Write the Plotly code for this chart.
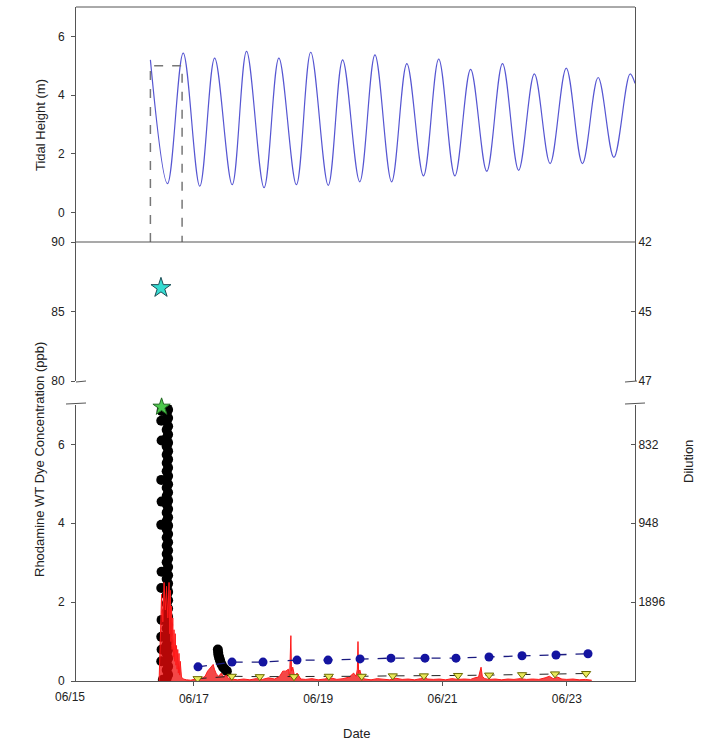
import plotly.graph_objects as go

# ---------------- data (x in days since 06/15 00:00) ----------------
# Tidal height extrema (m)
tide_day = [1.30, 1.575, 1.828, 2.095, 2.334, 2.616, 2.847, 3.129, 3.367, 3.649,
            3.880, 4.162, 4.393, 4.668, 4.913, 5.181, 5.426, 5.694, 5.939, 6.199,
            6.452, 6.712, 6.965, 7.225, 7.478, 7.731, 7.991, 8.251, 8.504, 8.757,
            9.017, 9.097]
tide_h = [5.20, 0.99, 5.43, 0.90, 5.26, 0.95, 5.49, 0.85, 5.26, 0.95,
          5.46, 0.93, 5.20, 1.05, 5.37, 1.05, 5.07, 1.25, 5.23, 1.25,
          4.88, 1.41, 5.07, 1.44, 4.72, 1.67, 4.92, 1.67, 4.60, 1.88,
          4.72, 4.40]

# Dashed reference marks (two high tides, level 5.0 m)
mark_day = [1.30, 1.30, 1.81, 1.81]
mark_h = [-1.0, 5.0, 5.0, -1.0]

# High-frequency fluorometer (black circles, ppb) - dense column after release
bar_day = [1.562, 1.585, 1.562, 1.585, 1.562, 1.585, 1.562, 1.585, 1.562, 1.585,
           1.562, 1.585, 1.562, 1.585, 1.562, 1.585, 1.562, 1.585, 1.562, 1.585,
           1.562, 1.585, 1.562, 1.585, 1.562, 1.585, 1.562, 1.585, 1.562, 1.585,
           1.562, 1.585, 1.562, 1.585, 1.562, 1.585, 1.562, 1.585, 1.562, 1.585,
           1.562, 1.585, 1.562, 1.585, 1.562, 1.585, 1.562, 1.585, 1.562, 1.585,
           1.562, 1.585, 1.562, 1.585, 1.562, 1.585, 1.562, 1.585, 1.562, 1.585,
           1.562, 1.585, 1.562, 1.585, 1.562, 1.585, 1.562]
bar_val = [6.98, 6.88, 6.79, 6.67, 6.58, 6.46, 6.37, 6.25, 6.16, 6.04,
           5.95, 5.83, 5.74, 5.62, 5.53, 5.41, 5.32, 5.20, 5.11, 4.99,
           4.90, 4.78, 4.69, 4.57, 4.48, 4.36, 4.27, 4.15, 4.06, 3.94,
           3.85, 3.73, 3.64, 3.52, 3.43, 3.31, 3.22, 3.10, 3.01, 2.89,
           2.80, 2.68, 2.59, 2.47, 2.38, 2.26, 2.17, 2.05, 1.96, 1.84,
           1.75, 1.63, 1.54, 1.42, 1.33, 1.21, 1.12, 1.00, 0.91, 0.79,
           0.70, 0.58, 0.49, 0.37, 0.28, 0.16, 0.07]
# scattered black points (left bumps, base, and later cluster)
black_day = [1.480, 1.475, 1.480, 1.475, 1.480, 1.475, 1.480, 1.475, 1.480, 1.475,
             1.480, 1.475, 1.500, 1.530,
             2.385, 2.390, 2.395, 2.405, 2.415, 2.425, 2.445, 2.47, 2.50, 2.53]
black_val = [6.85, 6.60, 6.10, 5.10, 4.55, 3.96, 2.77, 2.36, 1.55, 1.12,
             0.80, 0.50, 0.03, 0.00,
             0.80, 0.72, 0.66, 0.60, 0.55, 0.50, 0.42, 0.35, 0.30, 0.25]

# Second fluorometer (red trace, ppb)
red_day = [1.44, 1.46, 1.48, 1.50, 1.52, 1.54, 1.56, 1.58, 1.59, 1.60,
           1.61, 1.62, 1.63, 1.64, 1.65, 1.66, 1.67, 1.68, 1.69, 1.70,
           1.71, 1.72, 1.73, 1.74, 1.75, 1.76, 1.77, 1.78, 1.80, 1.83,
           1.88, 1.95, 2.02, 2.08, 2.14, 2.18, 2.22, 2.26, 2.29, 2.31,
           2.33, 2.36, 2.40, 2.44, 2.48, 2.52, 2.56, 2.62,
           2.70, 2.80, 2.90, 3.00, 3.10, 3.20, 3.30, 3.38, 3.43,
           3.48, 3.52, 3.54, 3.56, 3.57, 3.59, 3.62, 3.66, 3.72,
           3.80, 3.90, 4.00, 4.10, 4.20, 4.30, 4.40, 4.50, 4.57,
           4.61, 4.63, 4.64, 4.65, 4.67, 4.70, 4.75,
           4.85, 4.95, 5.05, 5.15, 5.25, 5.35, 5.45, 5.55, 5.65, 5.72,
           5.76, 5.85, 5.95, 6.05, 6.15, 6.25, 6.35, 6.45, 6.52,
           6.58, 6.62, 6.64, 6.68,
           6.75, 6.85, 6.95, 7.05, 7.15, 7.25, 7.35, 7.45, 7.55, 7.65,
           7.72, 7.78, 7.85, 7.92, 8.00, 8.10, 8.20, 8.30, 8.40]
red_val = [0.00, 1.20, 2.20, 1.50, 2.50, 1.80, 2.40, 1.60, 2.30, 2.50,
           1.20, 2.30, 1.00, 1.90, 0.80, 1.60, 0.60, 1.30, 0.50, 1.20,
           0.40, 0.90, 0.30, 0.80, 0.20, 0.70, 0.15, 0.50, 0.10, 0.05,
           0.03, 0.02, 0.05, 0.03, 0.08, 0.12, 0.25, 0.32, 0.38, 0.42,
           0.30, 0.18, 0.12, 0.20, 0.10, 0.15, 0.06, 0.04,
           0.03, 0.05, 0.03, 0.06, 0.04, 0.08, 0.05, 0.12, 0.25,
           0.25, 0.30, 0.10, 1.15, 0.25, 0.35, 0.12, 0.20, 0.05,
           0.04, 0.06, 0.03, 0.05, 0.08, 0.04, 0.06, 0.10, 0.20,
           0.12, 0.30, 1.00, 0.20, 0.28, 0.10, 0.05,
           0.03, 0.06, 0.04, 0.03, 0.07, 0.04, 0.05, 0.03, 0.06, 0.10,
           0.05, 0.04, 0.05, 0.03, 0.06, 0.04, 0.05, 0.04, 0.08,
           0.10, 0.35, 0.12, 0.06,
           0.04, 0.05, 0.03, 0.05, 0.04, 0.06, 0.04, 0.05, 0.04, 0.08,
           0.12, 0.06, 0.10, 0.05, 0.04, 0.05, 0.03, 0.04, 0.02]

# Discrete samples (blue circles, ppb)
blue_day = [2.066, 2.613, 3.112, 3.659, 4.158, 4.673, 5.171, 5.718, 6.217,
            6.748, 7.279, 7.826, 8.341]
blue_val = [0.36, 0.48, 0.48, 0.53, 0.53, 0.56, 0.58, 0.58, 0.58, 0.61,
            0.64, 0.66, 0.69]

# Discrete samples (yellow triangles, ppb)
tri_day = [2.06, 2.61, 3.06, 3.61, 4.17, 4.70, 5.20, 5.70, 6.25, 6.75,
           7.28, 7.81, 8.31]
tri_val = [0.06, 0.12, 0.11, 0.11, 0.12, 0.12, 0.13, 0.13, 0.14, 0.15,
           0.16, 0.18, 0.19]

# Release markers
cyan_day, cyan_val = [1.47], [86.7]
green_day, green_val = [1.48], [6.95]

# Axis tick labels
x_tickvals = [2, 4, 6, 8]
x_ticktext = ["06/17", "06/19", "06/21", "06/23"]
first_date_label = "06/15"
tide_ticks = [0, 2, 4, 6]
mid_ticks = [80, 85, 90]
mid_dilution = ["47", "45", "42"]
low_ticks = [0, 2, 4, 6]
low_dil_vals = [2, 4, 6]
low_dilution = ["1896", "948", "832"]

# ---------------- figure ----------------
W, H = 704, 747
L, R, T, B = 76, 69, 7, 66
pw, ph = W - L - R, H - T - B


def xp(px):
    return (px - L) / pw


def yp(py):
    return (H - B - py) / ph


FONT = "Arial, Liberation Sans, sans-serif"
AX = "#555555"
TXT = "#222222"

fig = go.Figure()

fig.add_trace(go.Scatter(x=tide_day, y=tide_h, mode="lines", yaxis="y",
                         line=dict(color="#5656d2", width=1.2, shape="spline", smoothing=1.0)))
fig.add_trace(go.Scatter(x=mark_day, y=mark_h, mode="lines", yaxis="y",
                         line=dict(color="#777777", width=1.5, dash="dash")))

fig.add_trace(go.Scatter(x=cyan_day, y=cyan_val, mode="markers", yaxis="y2",
                         marker=dict(symbol="star", size=15, color="#35dcd2",
                                     line=dict(color="#1d4d55", width=1))))
fig.add_trace(go.Scatter(x=[], y=[], yaxis="y4", mode="markers"))

fig.add_trace(go.Scatter(x=bar_day, y=bar_val, mode="markers", yaxis="y3",
                         marker=dict(size=10, color="black")))
fig.add_trace(go.Scatter(x=black_day, y=black_val, mode="markers", yaxis="y3",
                         marker=dict(size=10, color="black")))
fig.add_trace(go.Scatter(x=red_day, y=red_val, mode="lines", yaxis="y3",
                         fill="tozeroy", fillcolor="rgba(240,10,10,0.75)",
                         line=dict(color="#ff1a1a", width=1)))
fig.add_trace(go.Scatter(x=blue_day, y=blue_val, mode="lines+markers", yaxis="y3",
                         line=dict(color="#1a1a80", width=1.3, dash="dash"),
                         marker=dict(size=9, color="#1414a0")))
fig.add_trace(go.Scatter(x=tri_day, y=tri_val, mode="lines+markers", yaxis="y3",
                         line=dict(color="#222222", width=1, dash="dash"),
                         marker=dict(symbol="triangle-down", size=8, color="#e8e85a",
                                     line=dict(color="#6b6b00", width=1))))
fig.add_trace(go.Scatter(x=green_day, y=green_val, mode="markers", yaxis="y3",
                         cliponaxis=False,
                         marker=dict(symbol="star", size=13, color="#4cc84c",
                                     line=dict(color="#226622", width=1))))
fig.add_trace(go.Scatter(x=[], y=[], yaxis="y5", mode="markers"))

ax_common = dict(showgrid=False, zeroline=False, showline=True, linecolor=AX, linewidth=1,
                 automargin=False,
                 tickfont=dict(family=FONT, size=12, color=TXT), tickcolor=AX)

top_d = [yp(242), 1.0]
mid_d = [yp(381), yp(242)]
low_d = [0.0, yp(405)]

fig.update_layout(
    width=W, height=H, margin=dict(l=L, r=R, t=T, b=B, autoexpand=False),
    paper_bgcolor="white", plot_bgcolor="white", showlegend=False,
    font=dict(family=FONT, color=TXT),
    xaxis=dict(domain=[0, 1], range=[0.103, 9.097], anchor="y3",
               tickvals=x_tickvals, ticktext=x_ticktext, ticks="outside", ticklen=4,
               ticklabelstandoff=3, **ax_common),
    yaxis=dict(domain=top_d, range=[-1, 7], anchor="x", tickvals=tide_ticks,
               ticks="outside", ticklen=4, mirror=True, ticklabelstandoff=4, **ax_common),
    yaxis2=dict(domain=mid_d, range=[80, 90], anchor="x", tickvals=mid_ticks,
                ticks="outside", ticklen=4, ticklabelstandoff=4, **ax_common),
    yaxis3=dict(domain=low_d, range=[0, 7], anchor="x", tickvals=low_ticks,
                ticks="outside", ticklen=4, ticklabelstandoff=4, **ax_common),
    yaxis4=dict(overlaying="y2", side="right", anchor="x", range=[80, 90],
                tickvals=mid_ticks, ticktext=mid_dilution, ticks="inside", ticklen=4,
                **ax_common),
    yaxis5=dict(overlaying="y3", side="right", anchor="x", range=[0, 7],
                tickvals=low_dil_vals, ticktext=low_dilution, ticks="inside", ticklen=4,
                **ax_common),
)

shapes = [
    dict(type="line", xref="paper", yref="paper", x0=0, x1=1, y0=1, y1=1,
         line=dict(color=AX, width=1)),
    dict(type="line", xref="paper", yref="paper", x0=0, x1=1, y0=yp(242), y1=yp(242),
         line=dict(color=AX, width=1.2)),
    # axis break marks
    dict(type="line", xref="paper", yref="paper", x0=xp(76), x1=xp(86), y0=yp(382), y1=yp(381),
         line=dict(color=AX, width=1)),
    dict(type="line", xref="paper", yref="paper", x0=xp(66), x1=xp(86), y0=yp(404), y1=yp(403),
         line=dict(color=AX, width=1)),
    dict(type="line", xref="paper", yref="paper", x0=xp(625), x1=xp(637), y0=yp(382), y1=yp(381),
         line=dict(color=AX, width=1)),
    dict(type="line", xref="paper", yref="paper", x0=xp(625), x1=xp(645), y0=yp(404), y1=yp(403),
         line=dict(color=AX, width=1)),
]
fig.update_layout(shapes=shapes)

ann = [
    dict(text="Tidal Height (m)", x=xp(40), y=yp(125), textangle=-90, font=dict(size=13)),
    dict(text="Rhodamine WT Dye Concentration (ppb)", x=xp(40), y=yp(460), textangle=-90,
         font=dict(size=13)),
    dict(text="Dilution", x=xp(689), y=yp(462), textangle=-90, font=dict(size=13)),
    dict(text="Date", x=xp(356), y=yp(733), font=dict(size=13)),
    dict(text=first_date_label, x=xp(70), y=yp(697), font=dict(size=12)),
]
for a in ann:
    a.update(xref="paper", yref="paper", showarrow=False, xanchor="center", yanchor="middle")
    a["font"].update(family=FONT, color=TXT)
fig.update_layout(annotations=ann)

fig.write_html("out.html")
